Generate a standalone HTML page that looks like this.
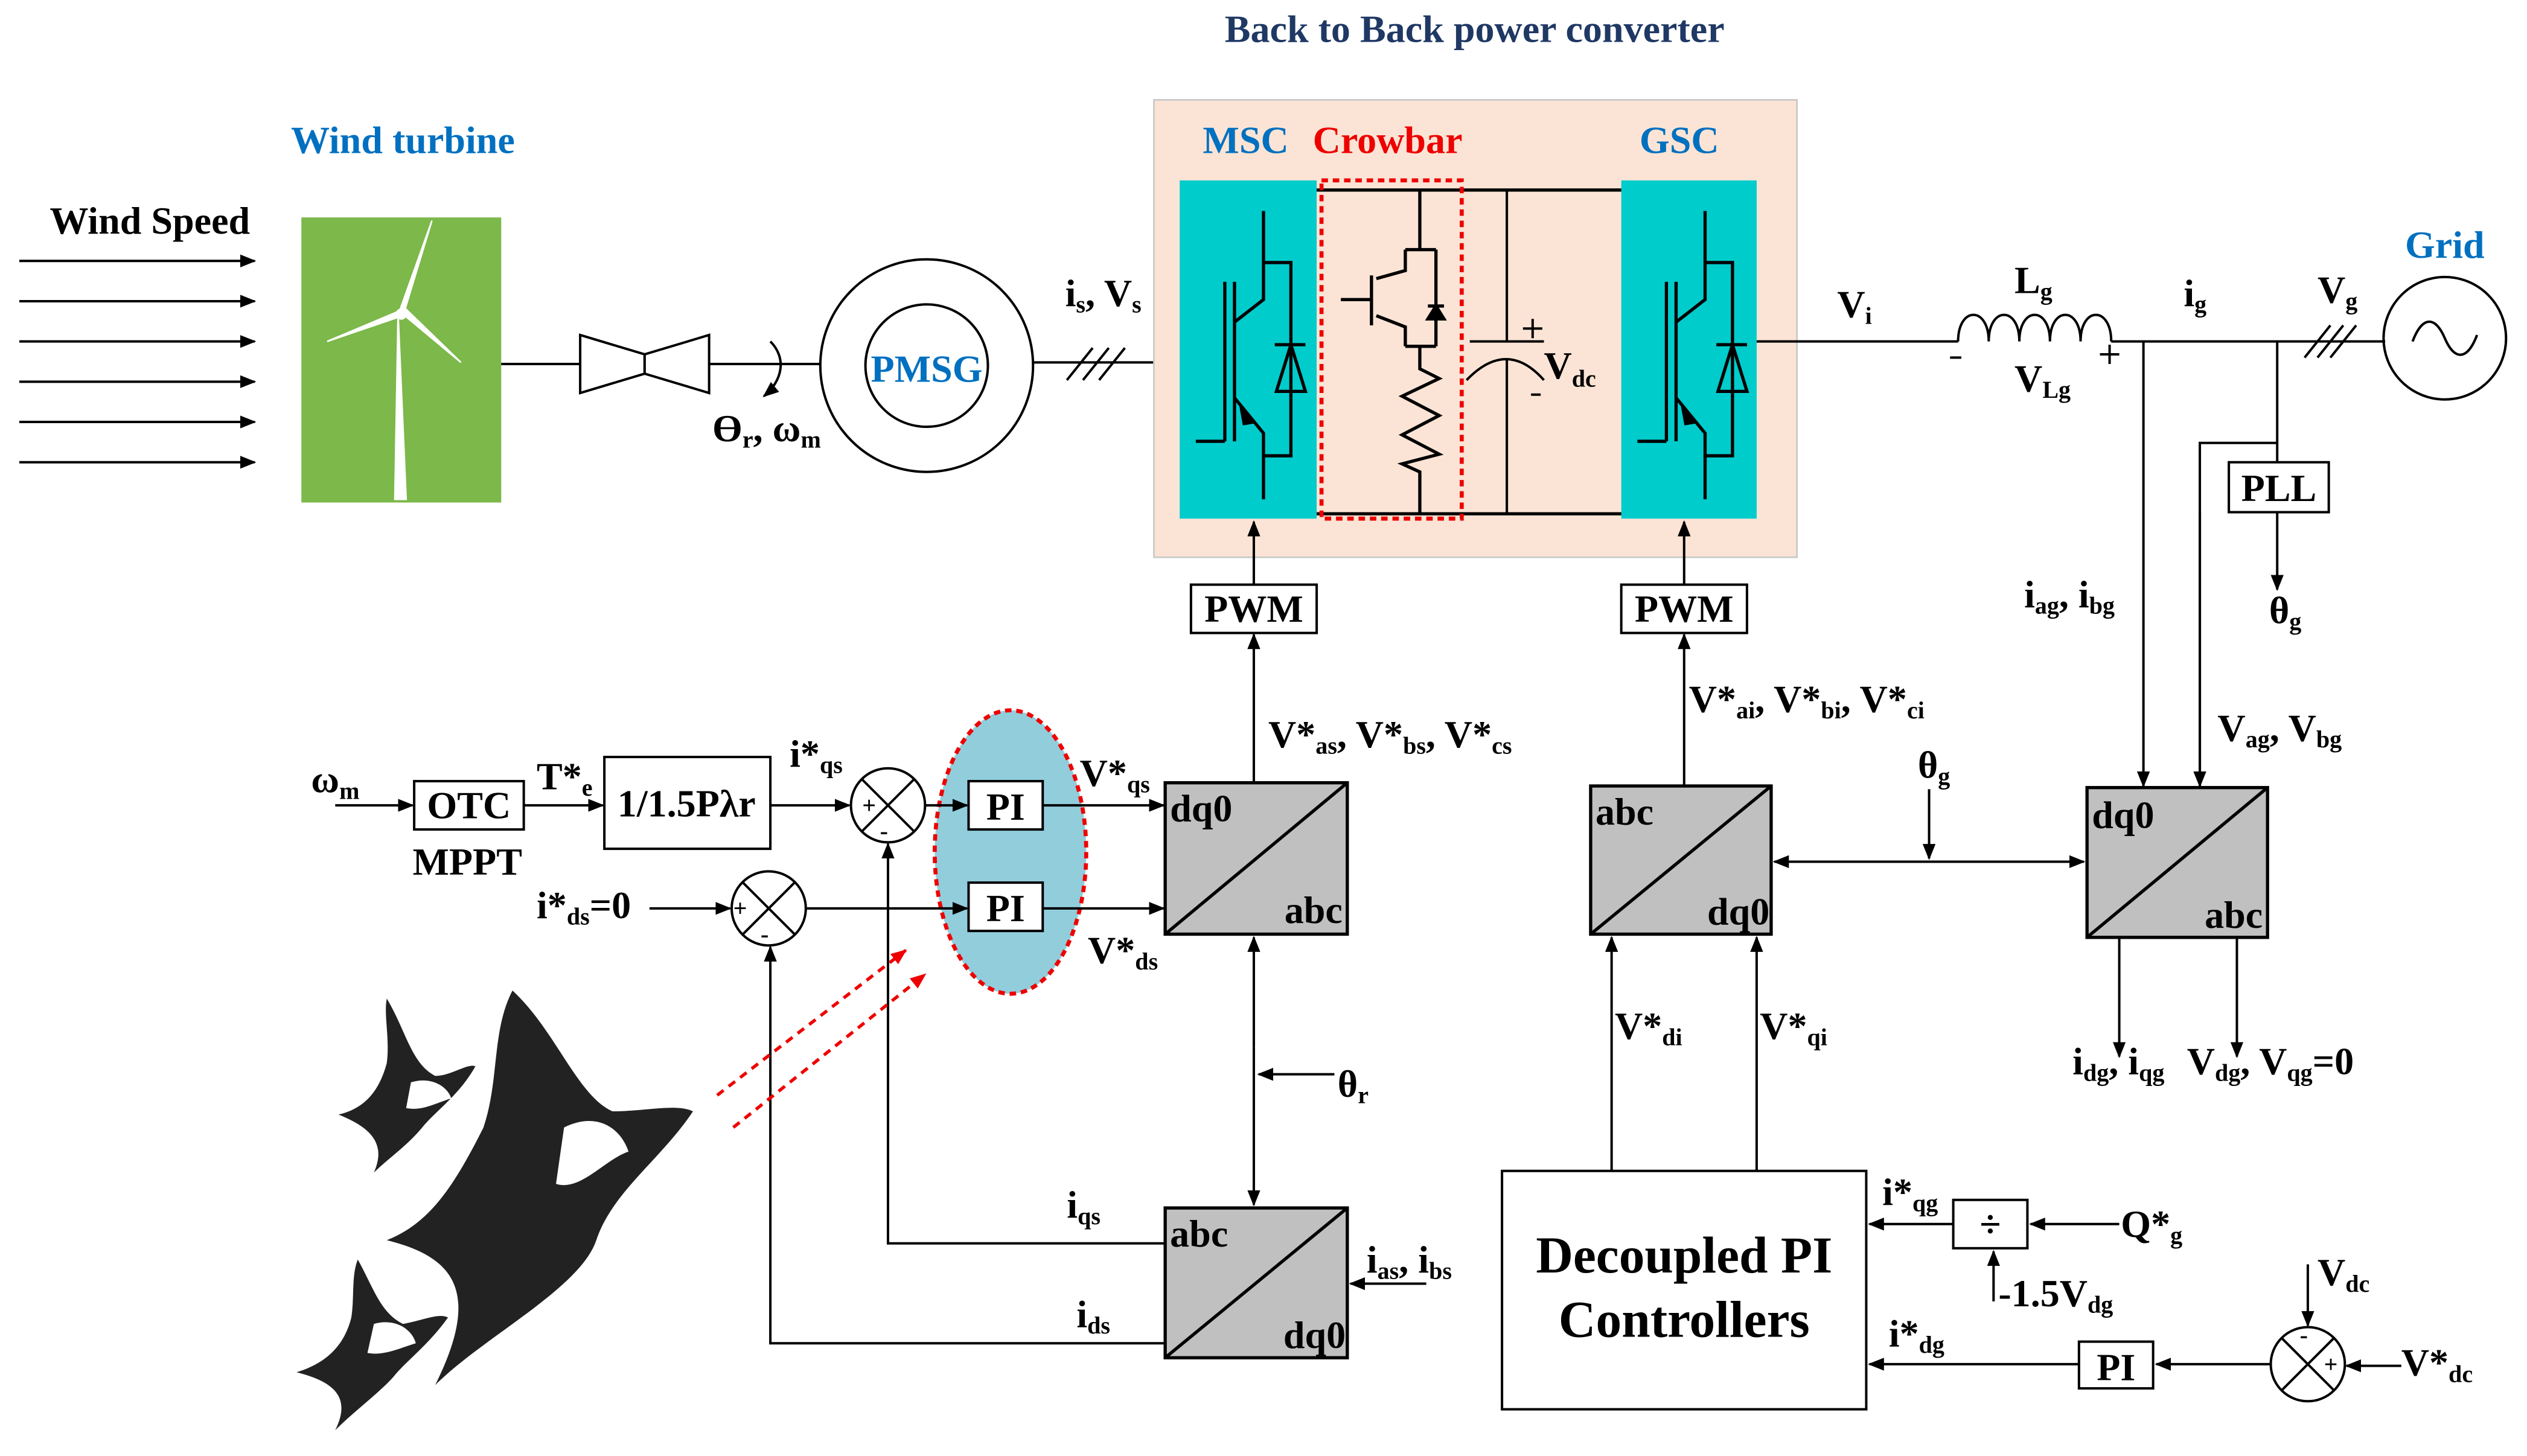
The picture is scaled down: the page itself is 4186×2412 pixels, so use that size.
<!DOCTYPE html>
<html><head><meta charset="utf-8"><style>
html,body{margin:0;padding:0;background:#fff}
svg{display:block}
text{font-family:"Liberation Serif",serif;font-weight:bold;font-size:24px;fill:#000}
.s{font-size:15px}
</style></head><body>
<svg width="4186" height="2412" viewBox="0 0 1568 904" preserveAspectRatio="none" xmlns="http://www.w3.org/2000/svg">
<defs>
<marker id="a" markerWidth="10" markerHeight="8" refX="9" refY="4" orient="auto" markerUnits="userSpaceOnUse"><path d="M0,0 L10,4 L0,8 z" fill="#000"/></marker>
<marker id="ar" markerWidth="10" markerHeight="8" refX="9" refY="4" orient="auto" markerUnits="userSpaceOnUse"><path d="M0,0 L10,4 L0,8 z" fill="#e00"/></marker>
<g id="sw" stroke="#000" stroke-width="2" fill="none">
<path d="M784,131 V186 L766,200"/>
<path d="M766,175 V274 M760,175 V274 M742,274 H760"/>
<path d="M766,247 L784,269 V310"/>
<path d="M770,252 l8,10 l-6,1z" fill="#000"/>
<path d="M784,163 H801 V283 H784"/>
<path d="M791,214 H810 M801,214 L792,243 H810 Z"/>
</g>
</defs>

<text x="915" y="26" text-anchor="middle" style="fill:#1f3864">Back to Back power converter</text>
<text x="250" y="95" text-anchor="middle" style="fill:#0070c0">Wind turbine</text>
<text x="93" y="145" text-anchor="middle">Wind Speed</text>
<g stroke="#000" stroke-width="1.5" marker-end="url(#a)">
<line x1="12" y1="162" x2="158" y2="162"/><line x1="12" y1="187" x2="158" y2="187"/>
<line x1="12" y1="212" x2="158" y2="212"/><line x1="12" y1="237" x2="158" y2="237"/>
<line x1="12" y1="262" x2="158" y2="262"/><line x1="12" y1="287" x2="158" y2="287"/>
</g>
<rect x="187" y="135" width="124" height="177" fill="#7cb84a"/>
<g stroke="#fff" fill="#fff">
<path d="M247,195 L245,310 L252,310 Z"/>
<path d="M248,193 L268,137 L251,193 Z M248,193 L203,212 L247,197 Z M250,195 L286,225 L252,192 Z"/>
<circle cx="249" cy="195" r="3"/>
</g>
<g stroke="#000" stroke-width="1.5" fill="#fff">
<line x1="311" y1="226" x2="360" y2="226"/>
<path d="M360,208 L400,220 L400,232 L360,244 Z"/>
<path d="M440,208 L400,220 L400,232 L440,244 Z"/>
<line x1="440" y1="226" x2="510" y2="226"/>
<path d="M478,212 C488,222 486,236 474,246" fill="none" marker-end="url(#a)"/>
<circle cx="575" cy="227" r="66"/>
<circle cx="575" cy="227" r="38"/>
<line x1="641" y1="225" x2="732" y2="225"/>
<path d="M662,236 l16,-20 M672,236 l16,-20 M682,236 l16,-20" fill="none"/>
</g>
<text x="575" y="237" text-anchor="middle" style="fill:#0070c0">PMSG</text>
<text x="442" y="274">ϴ<tspan class="s" dy="4">r</tspan><tspan dy="-4">, ω</tspan><tspan class="s" dy="4">m</tspan></text>
<text x="661" y="190">i<tspan class="s" dy="4">s</tspan><tspan dy="-4">, V</tspan><tspan class="s" dy="4">s</tspan></text>

<rect x="716" y="62" width="399" height="284" fill="#fbe4d5" stroke="#c8c8c8"/>
<text x="773" y="95" text-anchor="middle" style="fill:#0070c0">MSC</text>
<text x="861" y="95" text-anchor="middle" style="fill:#e00">Crowbar</text>
<text x="1042" y="95" text-anchor="middle" style="fill:#0070c0">GSC</text>
<rect x="732" y="112" width="85" height="210" fill="#00cccc"/>
<rect x="1006" y="112" width="84" height="210" fill="#00cccc"/>
<use href="#sw"/>
<use href="#sw" transform="translate(274,0)"/>
<g stroke="#000" stroke-width="2" fill="none">
<line x1="817" y1="118" x2="1006" y2="118"/>
<line x1="817" y1="319" x2="1006" y2="319"/>
<path d="M881,118 V155 M872,155 H891 M872,155 V168 L854,173 M851,171 V202 M832,186 H850 M854,196 L872,203 V215 M872,215 H891 M891,155 V215"/>
<path d="M886,190 h10 M891,190 l-5,8 h10z" fill="#000"/>
<path d="M881,215 V229 L893,235 L870,246 L893,258 L870,270 L893,282 L870,288 L881,293 V319"/>
</g>
<g stroke="#000" stroke-width="1.5" fill="none">
<path d="M935,118 V212 M912,212 H958 M910,236 Q935,210 958,236 M935,223 V319"/>
<path d="M945,204 h12 M951,198 v12 M950,245 h6"/>
</g>
<text x="958" y="235">V<tspan class="s" dy="5">dc</tspan></text>
<rect x="820" y="112" width="87" height="210" fill="none" stroke="#e00" stroke-width="2.5" stroke-dasharray="4,3"/>

<g stroke="#000" stroke-width="1.5" fill="none">
<line x1="1090" y1="212" x2="1215" y2="212"/>
<path d="M1215,212 c0,-22 19,-22 19,0 c0,-22 19,-22 19,0 c0,-22 19,-22 19,0 c0,-22 19,-22 19,0 c0,-22 19,-22 19,0"/>
<line x1="1310" y1="212" x2="1480" y2="212"/>
<path d="M1430,222 l16,-20 M1438,222 l16,-20 M1446,222 l16,-20"/>
<circle cx="1517" cy="210" r="38"/>
<path d="M1497,212 c6,-16 14,-16 20,-2 c6,14 14,14 20,-2"/>
<path d="M1413,212 V287 M1413,275 H1365 V488" />
<line x1="1365" y1="318" x2="1365" y2="488" marker-end="url(#a)"/>
<line x1="1330" y1="212" x2="1330" y2="488" marker-end="url(#a)"/>
<line x1="1413" y1="318" x2="1413" y2="366" marker-end="url(#a)"/>
<path d="M1210,222 h7 M1303,220 h12 M1309,214 v12"/>
</g>
<rect x="1383" y="287" width="62" height="31" fill="#fff" stroke="#000" stroke-width="1.5"/>
<text x="1414" y="311" text-anchor="middle">PLL</text>
<text x="1140" y="197">V<tspan class="s" dy="4">i</tspan></text>
<text x="1250" y="182">L<tspan class="s" dy="4">g</tspan></text>
<text x="1250" y="243">V<tspan class="s" dy="4">Lg</tspan></text>
<text x="1355" y="190">i<tspan class="s" dy="4">g</tspan></text>
<text x="1438" y="188">V<tspan class="s" dy="4">g</tspan></text>
<text x="1517" y="160" text-anchor="middle" style="fill:#0070c0">Grid</text>
<text x="1256" y="377">i<tspan class="s" dy="4">ag</tspan><tspan dy="-4">, i</tspan><tspan class="s" dy="4">bg</tspan></text>
<text x="1408" y="387">θ<tspan class="s" dy="4">g</tspan></text>
<text x="1376" y="460">V<tspan class="s" dy="4">ag</tspan><tspan dy="-4">, V</tspan><tspan class="s" dy="4">bg</tspan></text>

<g stroke="#000" stroke-width="1.5" fill="#fff">
<rect x="739" y="363" width="78" height="30"/>
<rect x="1006" y="363" width="78" height="30"/>
<line x1="778" y1="363" x2="778" y2="324" marker-end="url(#a)"/>
<line x1="1045" y1="363" x2="1045" y2="324" marker-end="url(#a)"/>
<line x1="778" y1="486" x2="778" y2="394" marker-end="url(#a)"/>
<line x1="1045" y1="488" x2="1045" y2="394" marker-end="url(#a)"/>
</g>
<text x="778" y="386" text-anchor="middle">PWM</text>
<text x="1045" y="386" text-anchor="middle">PWM</text>

<g stroke="#000" stroke-width="2">
<rect x="723" y="486" width="113" height="94" fill="#c0c0c0"/><line x1="723" y1="580" x2="836" y2="486"/>
<rect x="723" y="750" width="113" height="93" fill="#c0c0c0"/><line x1="723" y1="843" x2="836" y2="750"/>
<rect x="987" y="488" width="112" height="92" fill="#c0c0c0"/><line x1="987" y1="580" x2="1099" y2="488"/>
<rect x="1295" y="489" width="112" height="93" fill="#c0c0c0"/><line x1="1295" y1="582" x2="1407" y2="489"/>
</g>
<text x="726" y="510">dq0</text><text x="833" y="573" text-anchor="end">abc</text>
<text x="726" y="774">abc</text><text x="835" y="837" text-anchor="end">dq0</text>
<text x="990" y="512">abc</text><text x="1098" y="574" text-anchor="end">dq0</text>
<text x="1298" y="514">dq0</text><text x="1404" y="576" text-anchor="end">abc</text>
<text x="787" y="464">V*<tspan class="s" dy="4">as</tspan><tspan dy="-4">, V*</tspan><tspan class="s" dy="4">bs</tspan><tspan dy="-4">, V*</tspan><tspan class="s" dy="4">cs</tspan></text>
<text x="1048" y="442">V*<tspan class="s" dy="4">ai</tspan><tspan dy="-4">, V*</tspan><tspan class="s" dy="4">bi</tspan><tspan dy="-4">, V*</tspan><tspan class="s" dy="4">ci</tspan></text>

<ellipse cx="627" cy="529" rx="47" ry="88" fill="#92cddc" stroke="#e00" stroke-width="2.5" stroke-dasharray="4,3"/>
<g stroke="#000" stroke-width="1.5" fill="#fff">
<rect x="257" y="485" width="68" height="30"/>
<rect x="375" y="470" width="103" height="57"/>
<rect x="601" y="485" width="46" height="30"/>
<rect x="601" y="548" width="46" height="30"/>
<circle cx="551" cy="500" r="23"/><path d="M535,484 L567,516 M567,484 L535,516"/>
<circle cx="477" cy="564" r="23"/><path d="M461,548 L493,580 M493,548 L461,580"/>
<line x1="208" y1="500" x2="256" y2="500" marker-end="url(#a)"/>
<line x1="325" y1="500" x2="374" y2="500" marker-end="url(#a)"/>
<line x1="478" y1="500" x2="527" y2="500" marker-end="url(#a)"/>
<line x1="574" y1="500" x2="600" y2="500" marker-end="url(#a)"/>
<line x1="647" y1="500" x2="722" y2="500" marker-end="url(#a)"/>
<line x1="403" y1="564" x2="453" y2="564" marker-end="url(#a)"/>
<line x1="500" y1="564" x2="600" y2="564" marker-end="url(#a)"/>
<line x1="647" y1="564" x2="722" y2="564" marker-end="url(#a)"/>
<line x1="778" y1="650" x2="778" y2="582" marker-end="url(#a)"/>
<line x1="778" y1="650" x2="778" y2="748" marker-end="url(#a)"/>
<line x1="828" y1="667" x2="781" y2="667" marker-end="url(#a)"/>
<polyline points="723,772 551,772 551,524" fill="none" marker-end="url(#a)"/>
<polyline points="723,834 478,834 478,588" fill="none" marker-end="url(#a)"/>
<line x1="885" y1="797" x2="838" y2="797" marker-end="url(#a)"/>
</g>
<text x="535" y="505" class="s">+</text><text x="546" y="521" class="s">-</text>
<text x="455" y="569" class="s">+</text><text x="472" y="585" class="s">-</text>
<text x="291" y="508" text-anchor="middle">OTC</text>
<text x="426" y="507" text-anchor="middle">1/1.5Pλr</text>
<text x="624" y="509" text-anchor="middle">PI</text>
<text x="624" y="572" text-anchor="middle">PI</text>
<text x="193" y="492">ω<tspan class="s" dy="4">m</tspan></text>
<text x="333" y="490">T*<tspan class="s" dy="4">e</tspan></text>
<text x="290" y="543" text-anchor="middle">MPPT</text>
<text x="490" y="476">i*<tspan class="s" dy="4">qs</tspan></text>
<text x="333" y="570">i*<tspan class="s" dy="4">ds</tspan><tspan dy="-4">=0</tspan></text>
<text x="670" y="488">V*<tspan class="s" dy="4">qs</tspan></text>
<text x="675" y="598">V*<tspan class="s" dy="4">ds</tspan></text>
<text x="830" y="681">θ<tspan class="s" dy="4">r</tspan></text>
<text x="662" y="756">i<tspan class="s" dy="4">qs</tspan></text>
<text x="668" y="824">i<tspan class="s" dy="4">ds</tspan></text>
<text x="848" y="790">i<tspan class="s" dy="4">as</tspan><tspan dy="-4">, i</tspan><tspan class="s" dy="4">bs</tspan></text>

<g stroke="#e00" stroke-width="2" stroke-dasharray="5,4">
<line x1="445" y1="680" x2="562" y2="590" marker-end="url(#ar)"/>
<line x1="455" y1="700" x2="574" y2="605" marker-end="url(#ar)"/>
</g>

<g fill="#222">
<path d="M318,615 C345,640 358,680 380,690 C400,690 420,685 430,690 C410,720 380,740 370,770 C360,800 300,830 270,860 C300,800 280,780 240,770 C265,760 280,740 300,700 C310,670 305,640 318,615 Z"/>
<path d="M240,620 C252,640 255,660 270,668 C280,668 290,660 295,662 C285,680 270,690 262,700 C252,712 240,720 232,728 C240,710 230,700 210,692 C228,688 236,675 240,660 C242,645 238,630 240,620 Z"/>
<path d="M222,782 C232,800 236,815 250,822 C262,820 272,815 278,818 C266,835 252,845 244,855 C234,866 220,876 208,888 C218,868 208,858 184,852 C204,846 214,834 218,818 C220,805 218,792 222,782 Z"/>
</g>
<g fill="#fff">
<path d="M350,700 C370,690 385,700 390,715 C375,720 360,740 345,735 Z"/>
<path d="M255,672 C268,668 278,675 280,682 C270,685 262,690 252,688 Z"/>
<path d="M232,822 C246,818 256,826 258,834 C248,837 238,842 228,840 Z"/>
</g>

<g stroke="#000" stroke-width="1.5" fill="#fff">
<line x1="1197" y1="535" x2="1101" y2="535" marker-end="url(#a)"/>
<line x1="1197" y1="535" x2="1293" y2="535" marker-end="url(#a)"/>
<line x1="1197" y1="490" x2="1197" y2="533" marker-end="url(#a)"/>
<line x1="1315" y1="582" x2="1315" y2="656" marker-end="url(#a)"/>
<line x1="1388" y1="582" x2="1388" y2="656" marker-end="url(#a)"/>
<rect x="932" y="727" width="226" height="148"/>
<line x1="1000" y1="727" x2="1000" y2="582" marker-end="url(#a)"/>
<line x1="1090" y1="727" x2="1090" y2="582" marker-end="url(#a)"/>
<rect x="1212" y="745" width="46" height="30"/>
<line x1="1315" y1="760" x2="1260" y2="760" marker-end="url(#a)"/>
<line x1="1212" y1="760" x2="1160" y2="760" marker-end="url(#a)"/>
<line x1="1237" y1="808" x2="1237" y2="777" marker-end="url(#a)"/>
<rect x="1290" y="833" width="46" height="29"/>
<circle cx="1432" cy="847" r="23"/><path d="M1416,831 L1448,863 M1448,831 L1416,863"/>
<line x1="1490" y1="848" x2="1456" y2="848" marker-end="url(#a)"/>
<line x1="1432" y1="785" x2="1432" y2="823" marker-end="url(#a)"/>
<line x1="1409" y1="847" x2="1338" y2="847" marker-end="url(#a)"/>
<line x1="1290" y1="847" x2="1160" y2="847" marker-end="url(#a)"/>
</g>
<text x="1442" y="852" class="s">+</text><text x="1427" y="834" class="s">-</text>
<text x="1190" y="483">θ<tspan class="s" dy="4">g</tspan></text>
<text x="1286" y="667">i<tspan class="s" dy="4">dg</tspan><tspan dy="-4">, i</tspan><tspan class="s" dy="4">qg</tspan></text>
<text x="1357" y="667">V<tspan class="s" dy="4">dg</tspan><tspan dy="-4">, V</tspan><tspan class="s" dy="4">qg</tspan><tspan dy="-4">=0</tspan></text>
<text x="1002" y="645">V*<tspan class="s" dy="4">di</tspan></text>
<text x="1092" y="645">V*<tspan class="s" dy="4">qi</tspan></text>
<text x="1045" y="790" text-anchor="middle" style="font-size:32px">Decoupled PI</text>
<text x="1045" y="830" text-anchor="middle" style="font-size:32px">Controllers</text>
<text x="1235" y="768" text-anchor="middle">÷</text>
<text x="1313" y="857" text-anchor="middle">PI</text>
<text x="1168" y="748">i*<tspan class="s" dy="4">qg</tspan></text>
<text x="1172" y="836">i*<tspan class="s" dy="4">dg</tspan></text>
<text x="1316" y="768">Q*<tspan class="s" dy="4">g</tspan></text>
<text x="1240" y="811">-1.5V<tspan class="s" dy="4">dg</tspan></text>
<text x="1438" y="798">V<tspan class="s" dy="4">dc</tspan></text>
<text x="1490" y="854">V*<tspan class="s" dy="4">dc</tspan></text>
</svg>
</body></html>
